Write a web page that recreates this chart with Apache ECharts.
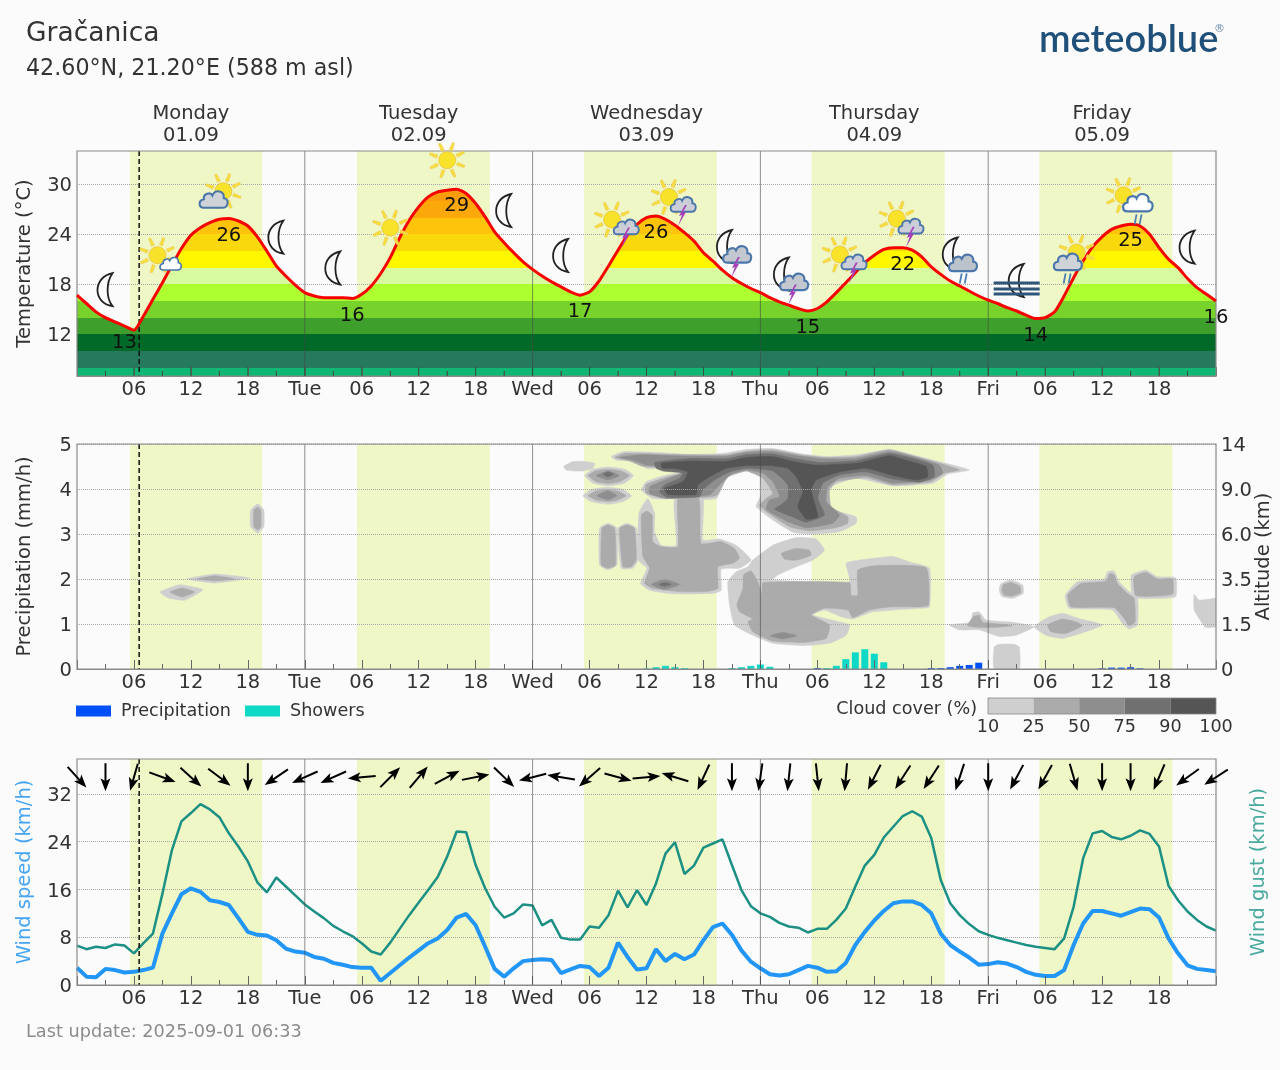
<!DOCTYPE html>
<html>
<head>
<meta charset="utf-8">
<title>Gračanica meteogram</title>
<script src="https://cdn.jsdelivr.net/npm/echarts@6/dist/echarts.min.js"></script>
<style>
html,body{margin:0;padding:0;background:#fbfbfb}
#chart{width:1280px;height:1070px}
</style>
</head>
<body>
<div id="chart"></div>
<script>
// Hourly forecast, hour 0 = Monday 00:00
const temperature = [16.7,15.7,14.7,14.0,13.5,13.0,12.5,14.2,16.2,18.2,20.3,22.3,23.9,24.8,25.4,25.8,25.9,25.6,25.0,23.7,22.0,20.2,19.0,17.9,
17.0,16.6,16.4,16.4,16.4,16.3,16.8,17.8,19.3,21.2,23.6,25.7,27.3,28.5,29.1,29.3,29.4,28.9,27.7,26.1,24.3,23.0,21.8,20.7,
19.8,19.0,18.3,17.7,17.1,16.7,17.1,18.4,20.2,22.1,23.9,25.2,26.0,26.2,25.8,25.1,24.2,23.2,21.8,20.8,19.7,18.8,18.1,17.5,
17.0,16.4,15.9,15.5,15.1,14.8,15.1,15.9,17.0,18.2,19.4,20.6,21.5,22.2,22.4,22.4,22.1,21.3,20.1,19.2,18.4,17.8,17.2,16.6,
16.1,15.7,15.2,14.8,14.3,13.9,14.0,14.7,16.6,18.8,20.8,22.5,23.7,24.6,25.0,25.2,25.0,24.0,22.4,21.0,20.0,18.7,17.6,16.8,16.0];
const windSpeed = [2.9,1.4,1.3,2.7,2.5,2.1,2.2,2.5,2.9,8.6,12.0,15.2,16.2,15.6,14.2,13.9,13.4,11.2,8.9,8.4,8.3,7.5,6.1,5.6,
5.4,4.7,4.4,3.7,3.4,3.0,2.9,2.9,0.7,2.0,3.3,4.6,5.8,7.0,7.8,9.2,11.3,11.9,10.0,6.4,2.7,1.4,2.8,4.0,
4.2,4.3,4.2,2.0,2.6,3.2,3.0,1.5,2.9,7.1,4.7,2.6,2.8,6.0,4.0,5.2,4.3,5.1,7.5,9.7,10.3,8.4,5.8,3.9,
2.8,1.8,1.6,1.8,2.5,3.2,2.9,2.2,2.3,3.7,6.7,8.9,10.8,12.4,13.7,14.0,14.0,13.4,12.0,8.6,6.7,5.6,4.6,3.4,
3.5,3.8,3.6,3.0,2.2,1.7,1.5,1.5,2.5,6.7,10.3,12.4,12.4,12.0,11.6,12.2,12.8,12.7,11.3,7.8,5.3,3.3,2.7,2.5,2.3];
const windGust = [6.6,6.0,6.4,6.2,6.8,6.6,5.3,7.0,8.6,15.3,22.6,27.4,28.8,30.3,29.4,28.1,25.4,23.2,20.7,17.2,15.5,18.0,16.5,15.0,
13.5,12.3,11.2,9.9,9.0,8.2,7.0,5.6,5.1,7.1,9.4,11.7,13.8,15.9,18.1,21.5,25.7,25.6,20.1,16.2,13.1,11.3,12.0,13.5,
13.3,10.0,10.9,7.9,7.6,7.6,9.8,9.6,11.7,15.8,13.0,15.9,13.4,17.0,22.0,23.9,18.6,20.0,23.0,23.7,24.4,20.1,15.9,13.2,
12.0,11.4,10.4,9.8,9.6,8.8,9.4,9.4,10.9,12.8,16.5,20.0,21.8,24.7,26.5,28.3,29.1,28.2,24.6,17.6,13.7,11.7,10.2,9.0,
8.4,7.9,7.5,7.1,6.7,6.4,6.2,6.0,7.8,13.1,21.2,25.4,25.8,24.8,24.4,25.0,25.9,25.3,23.2,16.6,14.2,12.3,10.9,9.8,9.1];

// Wind direction every 3 hours: compass bearing the arrow points to
const arrowHours = [0,3,6,9,12,15,18,21,24,27,30,33,36,39,42,45,48,51,54,57,60,63,66,69,72,75,78,81,84,87,90,93,96,99,102,105,108,111,114,117,120];
const arrowBearings = [138,180,196,110,132,127,180,236,246,246,265,45,40,62,79,134,256,279,229,105,85,287,205,180,188,186,174,185,207,213,213,198,180,208,209,164,180,180,203,234,237];
const arrowLevel = 34.8;

const showerHours = [60,61,62,63,64,69,70,71,72,73,79,80,81,82,83,84,85];
const showerValues = [0.01,0.04,0.07,0.04,0.02,0.02,0.04,0.07,0.1,0.05,0.02,0.07,0.22,0.37,0.44,0.34,0.15];
const rainHours = [78,90,91,92,93,94,95,108,109,110,111,112];
const rainValues = [0.02,0.02,0.02,0.04,0.07,0.09,0.14,0.015,0.03,0.03,0.04,0.015];

// Sun up / sun down per day
const sunrise = [5.6,29.5,53.4,77.4,101.4];
const sunset = [19.5,43.5,67.4,91.4,115.4];
const dayStarts = [24,48,72,96];
const nowHour = 6.55;

const dayHours = [12,36,60,84,108];
const dayNames = ['Monday','Tuesday','Wednesday','Thursday','Friday'];
const dayDates = ['01.09','02.09','03.09','04.09','05.09'];
const tickHours = [6,12,18,24,30,36,42,48,54,60,66,72,78,84,90,96,102,108,114];
const tickLabels = ['06','12','18','Tue','06','12','18','Wed','06','12','18','Thu','06','12','18','Fri','06','12','18'];

const tempTicks = [12,18,24,30];
const windTicks = [0,8,16,24,32];
const altitudeLabels = ['0','1.5','3.5','6.0','9.0','14'];

// Temperature colour bands
const bandEdges = [8,10,12,14,16,18,20,22,24,26,28];
const bandColors = ['#10b774','#26795c','#016a28','#3f9f2c','#78d22c','#aeff30','#d8faa0','#fff700','#f9d90c','#fdc40b','#fca70a','#fb9c0a'];

// Daily extremes printed under the curve
const extremeHours = [5,16,29,40,53,61,77,87,101,111,120];
const extremeValues = [13,26,16,29,17,26,15,22,14,25,16];

// Weather symbols every 6 hours
const iconHours = [3,9,15,21,27,33,39,45,51,57,63,69,75,81,87,93,99,105,111,117];
const iconLevels = [17.3,20.9,28.7,23.6,19.9,24.8,32.9,26.8,21.4,25.3,28,22,18.7,21.1,25.4,21.1,18.4,21.1,28.2,22.4];
const iconKinds = ['moon','sunSmallCloud','sunCloud','moon','moon','sun','sun','moon','moon','sunStorm','sunStorm','moonStorm','moonStorm','sunStorm','sunStorm','moonRain','moonFog','cloudSunRain','sunWhiteRain','moon'];

// Cloud cover outlines as [hours],[levels] on the altitude panel, one list per cover class
const cloud10 = [
 [[8.74,10.84,13.26,11.37,9.58],[1.71,1.87,1.76,1.53,1.58]],
 [[11.58,14.53,18.21,14.53],[2.0,2.11,2.02,1.91]],
 [[18.3,19.05,19.68,19.68,19.05,18.3],[3.53,3.67,3.53,3.16,3.02,3.16]],
 [[51.27,52.25,53.48,54.53,54.36,53.30,52.25,51.55],[4.50,4.61,4.61,4.57,4.46,4.40,4.40,4.42]],
 [[53.48,54.36,55.94,57.69,58.64,57.69,55.94,54.36],[4.30,4.44,4.49,4.44,4.30,4.13,4.07,4.13]],
 [[53.30,54.18,55.94,57.52,58.43,57.52,55.94,54.18],[3.85,3.99,4.04,3.99,3.85,3.72,3.66,3.72]],
 [[55.06,55.94,56.88,56.88,55.94,55.06],[3.13,3.24,3.13,2.31,2.20,2.31]],
 [[56.99,57.94,58.92,59.09,58.57,57.34],[3.13,3.24,3.13,2.42,2.24,2.24]],
 [[56.29,57.52,61.03,64.54,68.05,70.50,73.31,76.12,78.93,82.09,85.60,88.40,91.56,94.02,91.74,90.16,85.95,82.09,79.80,78.93,79.63,82.09,82.09,80.33,77.52,75.42,73.31,71.56,72.08,71.91,70.50,68.40,67.34,62.78,60.67,59.45,59.97,62.08,63.83,62.08,59.97,59.27,56.81],
  [4.72,4.83,4.81,4.77,4.79,4.88,4.90,4.79,4.72,4.76,4.88,4.74,4.57,4.42,4.33,4.13,4.07,4.24,4.09,3.90,3.55,3.38,3.24,3.05,3.00,3.04,3.31,3.61,3.87,4.31,4.40,4.24,3.79,3.78,3.79,3.98,4.16,4.31,4.38,4.46,4.46,4.61,4.64]],
 [[62.96,65.94,65.94,67.69,69.45,71.03,69.80,67.87,67.87,67.0,62.78,60.32,59.38,60.04,59.13,59.20,60.15,60.85,60.85,61.55,63.13],
  [3.79,3.79,2.87,2.89,2.75,2.42,2.24,2.22,1.75,1.68,1.67,1.75,1.90,2.24,2.42,3.46,3.79,3.46,3.05,2.75,2.75]],
 [[71.20,73.31,75.77,77.87,78.75,77.52,75.77,73.84,73.31,81.38,81.03,82.44,85.95,87.70,89.81,89.81,88.75,83.84,81.73,80.51,78.75,77.52,81.38,81.03,79.28,76.47,73.31,71.20,69.27,68.75,68.57,69.45,70.68],
  [2.42,2.75,2.92,2.89,2.64,2.42,2.27,2.09,1.98,1.94,2.35,2.42,2.50,2.38,2.24,1.38,1.35,1.27,1.11,1.16,1.31,1.20,.98,.75,.57,.52,.57,.75,.98,1.42,1.94,2.16,2.27]],
 [[91.90,94.18,94.35,95.05,95.76,98.56,100.85,98.92,97.16,95.05,92.95],[.98,1.04,1.24,1.27,1.09,1.04,.94,.75,.72,.87,.87]],
 [[96.63,96.63,97.16,98.74,99.27,99.27],[0,.49,.55,.55,.49,0]],
 [[97.34,98.39,99.62,99.69,98.56,97.44,97.16],[1.90,1.98,1.87,1.68,1.57,1.61,1.75]],
 [[100.85,102.43,103.83,105.58,108.04,106.29,103.83,102.07],[.94,1.16,1.24,1.12,.98,.83,.68,.75]],
 [[104.11,105.41,108.22,108.57,109.27,109.80,110.85,111.73,111.73,110.85,110.15,109.09,104.53],[1.64,1.94,2.0,2.16,2.18,1.94,1.72,1.57,.98,.89,1.01,1.31,1.35]],
 [[111.09,112.60,113.83,115.76,115.76,114.36,111.55,111.09],[2.09,2.20,2.05,2.03,1.61,1.57,1.57,1.72]],
 [[117.69,118.22,119.90,120.7,120.7,118.92,118.22,117.69],[1.66,1.53,1.57,1.57,.98,.92,1.12,1.31]]
];
const cloud25 = [
 [[9.79,11.05,12.42,11.05],[1.71,1.80,1.71,1.60]],
 [[12.63,14.53,16.63,14.53],[2.0,2.07,2.0,1.96]],
 [[18.63,19.05,19.37,19.37,19.05,18.63],[3.53,3.6,3.53,3.16,3.09,3.16]],
 [[53.83,54.71,55.94,57.16,58.22,57.16,55.94,54.71],[4.30,4.41,4.44,4.41,4.30,4.16,4.12,4.16]],
 [[53.83,54.78,55.94,56.88,57.87,56.88,55.94,54.78],[3.85,3.96,3.99,3.96,3.85,3.75,3.72,3.75]],
 [[55.30,55.94,56.64,56.74,55.94,55.23],[3.13,3.20,3.13,2.31,2.24,2.31]],
 [[57.16,57.94,58.74,58.92,58.39,57.52],[3.13,3.20,3.13,2.42,2.27,2.27]],
 [[63.31,65.52,65.76,67.87,69.27,69.80,69.10,67.52,67.52,66.29,63.48,60.67,59.80,60.32,59.62,59.45,60.04,60.60,60.67,61.55,63.31],
  [3.79,3.79,2.79,2.83,2.68,2.46,2.35,2.27,1.79,1.72,1.72,1.79,1.90,2.24,2.50,3.42,3.51,3.42,2.83,2.72,2.72]],
 [[69.52,70.15,70.22,71.03,71.73,72.19,72.26,81.38,81.56,82.26,82.26,84.19,89.46,89.74,88.75,85.60,83.49,81.73,81.21,78.75,77.35,79.28,78.93,76.47,73.31,71.20,70.68,71.20,69.80],
  [1.42,1.79,2.09,2.18,1.94,1.66,1.92,1.92,1.64,1.64,2.20,2.30,2.25,1.42,1.38,1.38,1.31,1.14,1.31,1.35,1.20,.98,.68,.59,.62,.83,1.05,1.11,1.27]],
 [[74.19,75.77,77.17,77.35,75.77,74.54],[2.57,2.68,2.64,2.53,2.42,2.44]],
 [[56.64,57.69,61.03,64.54,68.40,70.50,73.31,76.12,78.93,82.09,85.60,88.40,91.56,92.97,91.39,89.98,85.95,83.14,79.98,79.28,79.45,81.21,81.21,79.98,77.17,75.07,72.61,71.91,72.61,73.31,72.26,70.50,68.57,67.34,62.08,59.97,59.90,62.25,64.01,62.08,59.62,58.22],
  [4.70,4.79,4.78,4.76,4.76,4.84,4.87,4.76,4.70,4.72,4.87,4.72,4.53,4.42,4.35,4.16,4.09,4.25,4.16,3.98,3.61,3.38,3.24,3.14,3.07,3.16,3.50,3.64,3.79,3.90,4.24,4.40,4.27,3.85,3.79,3.90,4.09,4.27,4.37,4.47,4.50,4.62]],
 [[93.83,94.42,95.05,95.41,97.86,98.56,96.46,95.05],[.96,1.16,1.20,1.04,.99,.96,.92,.92]],
 [[97.58,98.39,99.34,99.44,98.56,97.69,97.44],[1.87,1.92,1.84,1.70,1.62,1.64,1.75]],
 [[102.25,103.83,105.23,105.94,104.18,102.60],[.98,1.11,1.05,.96,.79,.83]],
 [[104.36,105.76,108.39,108.81,109.27,109.62,110.67,111.38,111.48,110.85,110.43,109.27,104.71],[1.64,1.90,1.95,2.12,2.10,1.90,1.68,1.57,1.05,.96,1.09,1.36,1.38]],
 [[111.38,112.60,113.83,115.41,115.41,111.55],[2.05,2.15,2.0,2.0,1.66,1.63]]
];
const cloud50 = [
 [[54.71,55.94,57.16,55.94],[4.30,4.40,4.30,4.20]],
 [[54.78,55.94,56.88,55.94],[3.85,3.96,3.85,3.76]],
 [[60.50,61.90,63.48,61.90],[1.88,1.99,1.88,1.77]],
 [[73.03,74.36,75.84,74.36],[.74,.81,.74,.67]],
 [[57.16,59.27,64.54,68.40,70.50,73.31,75.94,78.58,82.09,85.60,88.05,90.86,91.21,89.81,85.95,83.14,80.33,79.10,78.93,80.33,79.63,76.82,74.71,72.61,72.96,74.01,73.31,72.26,70.50,68.92,67.69,66.64,62.08,60.32,60.32,62.43,63.83,62.08,59.97,58.57],
  [4.70,4.76,4.73,4.73,4.81,4.83,4.74,4.67,4.68,4.83,4.72,4.53,4.35,4.20,4.13,4.30,4.24,4.05,3.72,3.42,3.24,3.14,3.29,3.55,3.76,3.83,4.16,4.35,4.42,4.33,4.09,3.87,3.79,3.90,4.05,4.24,4.37,4.50,4.53,4.64]]
];
const cloud75 = [
 [[55.41,55.94,56.53,55.94],[4.33,4.38,4.33,4.27]],
 [[61.31,61.90,62.60,61.90],[1.88,1.92,1.88,1.84]],
 [[60.85,64.54,68.40,70.50,73.31,75.77,78.22,82.09,85.60,87.70,90.16,90.33,88.75,85.95,83.14,80.33,78.58,78.05,78.75,76.82,75.42,73.49,74.36,74.89,74.89,73.31,70.50,68.75,67.17,65.94,65.59,62.25,61.38,61.90,63.48,63.83,61.73,61.03],
  [4.59,4.68,4.67,4.76,4.78,4.67,4.59,4.63,4.79,4.70,4.53,4.27,4.15,4.22,4.38,4.31,4.13,3.79,3.42,3.26,3.38,3.55,3.68,3.79,4.09,4.40,4.46,4.38,4.20,3.98,3.83,3.81,3.94,4.09,4.24,4.35,4.40,4.46]]
];
const cloud90 = [
 [[61.55,64.54,68.40,70.50,73.31,75.42,77.87,82.09,85.60,87.35,89.46,89.63,88.40,85.95,83.14,80.33,77.87,77.35,78.05,76.82,75.94,76.47,75.77,74.89,72.96,70.50,68.40,66.64,65.41,65.24,62.25,61.90,63.83,64.36,62.78,61.66],
  [4.57,4.62,4.61,4.70,4.72,4.61,4.53,4.57,4.74,4.64,4.50,4.27,4.20,4.30,4.46,4.38,4.20,3.98,3.38,3.33,3.61,3.94,4.27,4.46,4.52,4.52,4.46,4.27,4.09,3.88,3.88,4.01,4.16,4.38,4.46,4.46]]
];
const cloudClasses = [cloud10,cloud25,cloud50,cloud75,cloud90];
const cloudColors = ['#cfcfcf','#ababab','#8e8e8e','#707070','#555555'];
const cloudScale = ['10','25','50','75','90','100'];

const FONT = '"DejaVu Sans"';
const INK = '#333333';
const FRAME = '#8a8a8a';
const TEXT_SIZE = 19.5;

const chart = echarts.init(document.getElementById('chart'));

function makeXAxis(gridIndex, z){
  return {
    type:'value', gridIndex, min:0, max:120, interval:6, z,
    axisLine:{show:true,lineStyle:{color:FRAME}},
    axisTick:{show:true,inside:true,length:9,lineStyle:{color:'#666'}},
    minorTick:{show:true,splitNumber:2,length:5,lineStyle:{color:'#666'}},
    splitLine:{show:false},
    axisLabel:{
      color:INK,fontFamily:FONT,fontSize:TEXT_SIZE,margin:4,showMinLabel:false,showMaxLabel:false,
      formatter:v=>{const i=tickHours.indexOf(v);return i<0?'':tickLabels[i];}
    }
  };
}
const dotted = {show:true,lineStyle:{type:[1,1],color:'#a6a6a6',width:1}};
const labelStyle = {color:INK,fontFamily:FONT,fontSize:TEXT_SIZE};
const yLabelStyle = Object.assign({margin:5,verticalAlign:'top',padding:[-8,0,0,0]},labelStyle);

// Band of daylight behind each panel
function shadeSeries(xAxisIndex,yAxisIndex){
  return {
    type:'custom',xAxisIndex,yAxisIndex,z:-1,silent:true,clip:true,
    data:sunrise.map((s,i)=>[s,sunset[i]]),
    encode:{x:[0,1]},
    renderItem(p,api){
      const a=api.coord([api.value(0),0])[0],b=api.coord([api.value(1),0])[0];
      const c=p.coordSys;
      return {type:'rect',shape:{x:a,y:c.y,width:b-a,height:c.height},style:{fill:'#eff7c6'}};
    }
  };
}
// Midnight separators, the current-time marker and the plot frame
function overlaySeries(xAxisIndex,yAxisIndex){
  const rows=dayStarts.map(h=>[h,0]).concat([[nowHour,1],[0,2]]);
  return {
    type:'custom',xAxisIndex,yAxisIndex,z:6,silent:true,
    data:rows,
    renderItem(p,api){
      const c=p.coordSys,kind=api.value(1),x=api.coord([api.value(0),0])[0];
      if(kind===2) return {type:'rect',shape:{x:c.x,y:c.y,width:c.width,height:c.height},style:{fill:'none',stroke:FRAME,lineWidth:1.2}};
      return {type:'line',shape:{x1:x,y1:c.y,x2:x,y2:c.y+c.height},
        style: kind===1?{stroke:'#111',lineWidth:1.5,lineDash:[5,3]}:{stroke:'rgba(70,70,70,0.6)',lineWidth:1}};
    }
  };
}
// Inward ticks repeated over the temperature bands
function bandTickSeries(){
  const rows=[];
  for(let h=3;h<120;h+=3) rows.push([h,0]);
  return {
    type:'custom',xAxisIndex:0,yAxisIndex:0,z:6,silent:true,data:rows,
    renderItem(p,api){
      const h=api.value(0),pt=api.coord([h,7]);
      return {type:'line',shape:{x1:pt[0],y1:pt[1],x2:pt[0],y2:pt[1]-(h%6===0?9:5)},style:{stroke:'rgba(40,70,40,0.75)',lineWidth:1}};
    }
  };
}
// Hourly rain columns, rising from the zero line of the panel
function rainSeries(name,color,hours,values){
  return {
    type:'custom',name,xAxisIndex:1,yAxisIndex:1,z:4,silent:true,
    itemStyle:{color},
    data:hours.map((h,i)=>[h,values[i]]),
    renderItem(p,api){
      const top=api.coord([api.value(0),api.value(1)]),base=api.coord([api.value(0),0]);
      return {type:'rect',shape:{x:top[0]-3.5,y:top[1],width:7,height:base[1]-top[1]},style:{fill:color}};
    }
  };
}

// Weather symbol parts, drawn around a local origin
const CLOUD_PATH='M-10,8 C-16,8 -16,0 -10,-1 C-11,-7 -3,-9 -1,-5 C2,-12 12,-10 11,-2 C17,-2 16,8 10,8 Z';
const MOON_PATH='M7,-17 C-13,-13 -13,13 7,16 C0.5,8 0.5,-8 7,-17 Z';
const BOLT_PATH='M3,-9 L-3,2 L0,1 L-4,12 L4,-2 L1,-2 L5,-9 Z';

function sun(x,y){
  const ch=[];
  for(let i=0;i<8;i++){
    const a=i*Math.PI/4+0.35,co=Math.cos(a),si=Math.sin(a),w=1.7,t=1.1;
    ch.push({type:'polygon',shape:{points:[[co*10.5-si*w,si*10.5+co*w],[co*18.5-si*t,si*18.5+co*t],[co*18.5+si*t,si*18.5-co*t],[co*10.5+si*w,si*10.5-co*w]]},
      style:{fill:'#f7de38',stroke:'#ecca62',lineWidth:0.6}});
  }
  ch.push({type:'circle',shape:{cx:0,cy:0,r:8.5},style:{fill:'#f9e32a',stroke:'#eccb4a',lineWidth:1}});
  return {type:'group',x,y,children:ch};
}
function moon(x,y){return {type:'path',x,y,shape:{pathData:MOON_PATH},style:{fill:'#fbfbfb',stroke:'#222',lineWidth:1.8}};}
function cloud(x,y,s,fill){return {type:'path',x,y,scaleX:s,scaleY:s,shape:{pathData:CLOUD_PATH},style:{fill,stroke:'#4a76aa',lineWidth:2.2}};}
function bolt(x,y){return {type:'path',x,y,shape:{pathData:BOLT_PATH},style:{fill:'#a63fb8',stroke:'none'}};}
function rain(x,y){
  return {type:'group',x,y,children:[
    {type:'line',shape:{x1:-1,y1:0,x2:-3,y2:10},style:{stroke:'#4f7fb5',lineWidth:1.8}},
    {type:'line',shape:{x1:4,y1:0,x2:2,y2:10},style:{stroke:'#4f7fb5',lineWidth:1.8}}]};
}
function fog(y){return {type:'line',shape:{x1:-23,y1:y,x2:23,y2:y},style:{stroke:'#2f5578',lineWidth:3}};}

const iconParts = {
  moon:()=>[moon(0,0)],
  sun:()=>[sun(0,0)],
  sunSmallCloud:()=>[sun(-5,-5),cloud(8,4,0.72,'#fff')],
  sunCloud:()=>[sun(4,-4),cloud(-6,5,0.95,'#cfd3d8')],
  sunStorm:()=>[sun(-6,-4),cloud(8,4,0.85,'#cbced6'),bolt(7,13)],
  moonStorm:()=>[moon(-7,-4),cloud(5,4,0.95,'#c3c7cf'),bolt(3,15)],
  moonRain:()=>[moon(-9,-4),cloud(3,5,0.95,'#bcc3ca'),rain(3,15)],
  moonFog:()=>[moon(0,0),fog(2),fog(8),fog(13)],
  cloudSunRain:()=>[sun(3,-6),cloud(-6,4,0.95,'#cfd3d8'),rain(-7,15)],
  sunWhiteRain:()=>[sun(-7,-4),cloud(7,4,1,'#fff'),rain(7,15)]
};

const option = {
  animation:false,
  backgroundColor:'#fbfbfb',
  textStyle:{fontFamily:FONT},
  title:[
    {text:'Gračanica',left:21,top:16,textStyle:{fontFamily:FONT,fontSize:26.5,fontWeight:'normal',color:INK}},
    {text:'42.60°N, 21.20°E (588 m asl)',left:21,top:53,textStyle:{fontFamily:FONT,fontSize:22.2,fontWeight:'normal',color:INK}},
    {text:'meteoblue',left:1034,top:16,textStyle:{fontFamily:'Lato',fontSize:38,fontWeight:600,color:'#1f5079'}},
    {text:'®',left:1209,top:19,textStyle:{fontFamily:FONT,fontSize:11,fontWeight:'normal',color:'#6d8fae'}},
    {text:'Last update: 2025-09-01 06:33',left:21,top:1018,textStyle:{fontFamily:FONT,fontSize:17.7,fontWeight:'normal',color:'#8c8c8c'}}
  ],
  grid:[
    {left:77,top:151,width:1139,height:225,outerBoundsMode:'none'},
    {left:77,top:444,width:1139,height:225,outerBoundsMode:'none'},
    {left:77,top:759,width:1139,height:226,outerBoundsMode:'none'}
  ],
  xAxis:[makeXAxis(0,5),makeXAxis(1,5),makeXAxis(2,5)],
  yAxis:[
    {type:'value',gridIndex:0,min:7,max:34,name:'Temperature (°C)',nameLocation:'middle',nameGap:42,nameMoveOverlap:false,
     nameTextStyle:labelStyle,axisLine:{show:false},axisTick:{show:false,customValues:tempTicks},
     axisLabel:Object.assign({customValues:tempTicks},yLabelStyle),splitLine:dotted},
    {type:'value',gridIndex:1,min:0,max:5,interval:1,z:3,name:'Precipitation (mm/h)',nameLocation:'middle',nameGap:42,nameMoveOverlap:false,
     nameTextStyle:labelStyle,axisLine:{show:false},axisTick:{show:false},
     axisLabel:yLabelStyle,splitLine:dotted},
    {type:'value',gridIndex:1,min:0,max:5,interval:1,position:'right',name:'Altitude (km)',nameLocation:'middle',nameGap:38,nameMoveOverlap:false,
     nameTextStyle:labelStyle,axisLine:{show:false},axisTick:{show:false},splitLine:{show:false},
     axisLabel:Object.assign({},yLabelStyle,{formatter:(v)=>altitudeLabels[v]})},
    {type:'value',gridIndex:2,min:0,max:37.85,name:'Wind speed (km/h)',nameLocation:'middle',nameGap:42,nameMoveOverlap:false,
     nameTextStyle:Object.assign({},labelStyle,{color:'#45a5f2'}),axisLine:{show:false},axisTick:{show:false,customValues:windTicks},
     axisLabel:Object.assign({customValues:windTicks},yLabelStyle),splitLine:dotted},
    {type:'value',gridIndex:2,min:0,max:37.85,position:'right',name:'Wind gust (km/h)',nameLocation:'middle',nameGap:33,nameMoveOverlap:false,
     nameTextStyle:Object.assign({},labelStyle,{color:'#48a99e'}),axisLine:{show:false},axisTick:{show:false},
     axisLabel:{show:false},splitLine:{show:false}}
  ],
  visualMap:[{
    show:false,type:'piecewise',seriesIndex:1,dimension:1,
    pieces:bandColors.map((color,i)=>{
      const p={color};
      if(i>0)p.gte=bandEdges[i-1];
      if(i<bandEdges.length)p.lt=bandEdges[i];
      return p;
    })
  }],
  legend:{
    left:71,top:697,itemWidth:35,itemHeight:11,itemGap:14,icon:'rect',
    data:['Precipitation','Showers'],
    textStyle:{color:INK,fontFamily:FONT,fontSize:17.6,padding:[0,0,0,5]}
  },
  series:[
    shadeSeries(0,0),
    // Filled temperature bands under the curve
    {type:'line',xAxisIndex:0,yAxisIndex:0,z:2,silent:true,showSymbol:false,smooth:0.2,
     data:temperature.map((t,h)=>[h,t]),lineStyle:{width:0},areaStyle:{opacity:1,origin:'start'}},
    overlaySeries(0,0),
    bandTickSeries(),
    {type:'line',name:'Temperature',xAxisIndex:0,yAxisIndex:0,z:7,showSymbol:false,smooth:0.2,
     data:temperature.map((t,h)=>[h,t]),lineStyle:{color:'#f60000',width:3},itemStyle:{color:'#f60000'}},
    // Daily minimum and maximum labels
    {type:'scatter',xAxisIndex:0,yAxisIndex:0,z:8,symbolSize:0,silent:true,itemStyle:{opacity:1},
     data:extremeHours.map((h,i)=>({value:[h,temperature[h]],label:{formatter:String(extremeValues[i])}})),
     label:{show:true,position:'inside',offset:[0,17],color:'#111',fontFamily:FONT,fontSize:TEXT_SIZE}},
    // Day and date above the top panel
    {type:'scatter',xAxisIndex:0,yAxisIndex:0,z:8,symbolSize:0,silent:true,itemStyle:{opacity:1},
     data:dayHours.map((h,i)=>({value:[h,34],label:{formatter:dayNames[i]+'\n'+dayDates[i]}})),
     label:{show:true,position:'top',distance:4,align:'center',color:INK,fontFamily:FONT,fontSize:TEXT_SIZE,lineHeight:22}},
    // Weather symbols
    {type:'custom',xAxisIndex:0,yAxisIndex:0,z:9,silent:true,
     data:iconHours.map((h,i)=>[h,iconLevels[i]]),
     renderItem(p,api){
       const c=api.coord([api.value(0),api.value(1)]);
       return {type:'group',x:c[0],y:c[1],children:iconParts[iconKinds[p.dataIndex]]()};
     }},

    shadeSeries(1,1),
    // Cloud cover, lightest class first
    {type:'custom',xAxisIndex:1,yAxisIndex:1,z:1,silent:true,clip:true,
     data:cloudClasses.map((list,k)=>list.map((s,j)=>[k,j])).flat(),
     encode:{x:-1,y:-1},
     renderItem(p,api){
       const k=api.value(0),shape=cloudClasses[k][api.value(1)];
       const points=shape[0].map((h,i)=>api.coord([h,shape[1][i]]));
       return {type:'polygon',shape:{points,smooth:0.15},style:{fill:cloudColors[k],stroke:cloudColors[k],lineWidth:0.5}};
     }},
    rainSeries('Precipitation','#0050fa',rainHours,rainValues),
    rainSeries('Showers','#0ed8c6',showerHours,showerValues),
    overlaySeries(1,1),

    shadeSeries(2,3),
    {type:'line',name:'Wind gust',xAxisIndex:2,yAxisIndex:3,z:3,showSymbol:false,
     data:windGust.map((v,h)=>[h,v]),lineStyle:{color:'#1c9084',width:2.5},itemStyle:{color:'#1c9084'}},
    {type:'line',name:'Wind speed',xAxisIndex:2,yAxisIndex:3,z:4,showSymbol:false,
     data:windSpeed.map((v,h)=>[h,v]),lineStyle:{color:'#2196f7',width:4},itemStyle:{color:'#2196f7'}},
    overlaySeries(2,3),
    // Wind direction arrows along the top of the wind panel
    {type:'custom',xAxisIndex:2,yAxisIndex:3,z:9,silent:true,
     data:arrowHours.map((h,i)=>[h,arrowBearings[i]]),
     encode:{x:0,y:-1},
     renderItem(p,api){
       const c=api.coord([api.value(0),arrowLevel]);
       return {type:'group',x:c[0],y:c[1],rotation:-api.value(1)*Math.PI/180,children:[
         {type:'line',shape:{x1:0,y1:14,x2:0,y2:-6},style:{stroke:'#000',lineWidth:2}},
         {type:'polygon',shape:{points:[[0,-14],[-5,-1],[0,-4],[5,-1]]},style:{fill:'#000'}}
       ]};
     }}
  ],
  // Cloud cover scale next to the rain legend
  graphic:[
    {type:'text',x:977,y:700,style:{text:'Cloud cover (%)',fill:INK,font:'17.6px '+FONT,align:'right'}},
    ...cloudColors.map((fill,i)=>({type:'rect',x:988+i*45.6,y:698,shape:{width:45.6,height:16},style:{fill}})),
    {type:'rect',x:988,y:698,shape:{width:228,height:16},style:{fill:'none',stroke:'#888',lineWidth:0.8}},
    ...cloudScale.map((text,i)=>({type:'text',x:988+i*45.6,y:718,style:{text,fill:INK,font:'17.6px '+FONT,align:'center'}}))
  ]
};
chart.setOption(option);
</script>
</body>
</html>
